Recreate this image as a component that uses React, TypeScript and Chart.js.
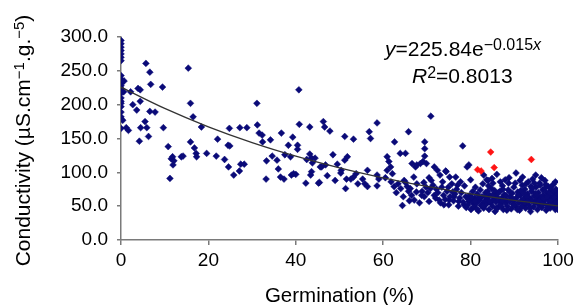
import React, { useEffect, useRef } from "react";
import { Chart, registerables } from "chart.js";

Chart.register(...registerables);

const FONT = "'Liberation Sans', Arial, Helvetica, sans-serif";

// Conductivity values of samples with 0 % germination
const ZERO_GERM_Y: number[] = [295, 290, 285, 280, 275, 270, 265, 243, 238, 231, 228, 224, 217, 210, 205, 202, 197, 189, 182, 165];

// [germination %, conductivity]
const BLUE_LOW: [number, number][] = [
  [0.7, 235], [0.6, 219], [0.4, 177], [1.2, 166], [1.7, 162], [2.2, 219], [2.7, 200], [3.6, 192], [3.9, 224],
  [4.4, 222], [4.4, 205], [4.2, 146], [4.5, 166], [5.5, 175], [5.9, 166], [5.7, 261], [6.3, 153], [6.6, 190],
  [6.6, 248], [6.8, 230], [7.8, 189], [9.5, 226], [9.7, 166], [10.8, 138], [11.2, 91], [11.5, 120], [11.8, 123],
  [12.1, 117], [11.9, 111], [13.8, 123], [14.2, 124], [15.4, 254], [15.9, 202], [16.5, 182], [15.9, 145],
  [16.8, 136], [17.2, 128], [17.3, 123], [18.4, 167], [19.6, 128], [22.1, 149], [21.8, 124], [23.7, 119],
  [24.5, 140], [24.9, 139], [24.6, 108], [24.8, 165], [25.8, 96], [27.1, 102], [27.4, 112], [28.2, 112],
  [27.2, 166], [28.8, 166], [31.1, 202], [31.2, 170], [31.6, 158], [32.3, 155], [32.4, 145], [33.3, 117],
  [33.2, 90], [34.2, 148], [34.6, 124], [35.7, 118], [36.7, 158], [36.5, 93], [37.3, 90], [38.3, 140],
  [39.0, 96], [37.5, 126], [36.0, 105],
];

const BLUE_MID: [number, number][] = [
  [39.3, 152], [38.8, 123], [40.4, 140], [40.4, 134], [40.7, 222], [40.8, 171], [40.0, 97], [42.5, 119],
  [43.2, 127], [43.8, 114], [44.4, 121], [43.2, 167], [42.3, 84], [43.6, 101], [43.4, 96], [45.4, 85],
  [45.6, 108], [46.3, 175], [46.6, 167], [47.8, 161], [46.8, 111], [50.4, 103], [50.3, 99], [51.2, 153],
  [51.2, 118], [51.4, 76], [53.2, 149], [51.8, 123], [51.6, 90], [52.6, 90], [53.2, 93], [53.8, 98],
  [54.2, 83], [55.3, 90], [55.8, 83], [56.4, 79], [56.4, 103], [56.8, 160], [57.1, 150], [58.6, 173],
  [58.6, 96], [59.0, 90], [58.6, 80], [60.9, 123], [61.3, 116], [61.7, 108], [60.9, 103], [62.6, 145],
  [62.5, 79], [63.4, 83], [64.0, 76], [64.6, 64], [64.4, 51], [63.9, 128], [65.1, 128], [64.8, 88],
  [65.1, 85], [65.5, 79], [66.2, 76], [65.8, 72], [65.8, 160], [66.6, 113], [67.4, 108], [67.7, 111],
  [68.5, 113], [69.1, 116], [67.0, 93], [67.7, 83], [67.6, 71], [45.9, 108], [45.2, 84], [43.6, 121],
  [39.5, 98], [48.5, 126], [49.5, 112], [47.2, 95], [49.0, 88], [63.0, 70], [61.8, 86], [60.5, 92],
  [62.1, 98], [66.5, 66], [66.0, 58], [68.9, 72],
];

const BLUE_HIGH: [number, number][] = [
  [70.9, 183], [69.5, 145], [69.5, 135], [69.5, 124], [69.9, 113], [71.4, 81], [74.4, 101], [75.2, 93],
  [78.2, 139], [70.5, 92], [71.0, 88], [69.8, 78], [70.2, 70], [68.8, 66], [69.3, 85], [71.7, 108],
  [72.4, 103], [73.0, 96], [67.1, 59], [68.3, 55], [69.4, 64], [70.5, 57], [71.7, 66], [72.8, 59],
  [73.9, 52], [75.1, 59], [76.2, 64], [77.3, 57], [78.5, 52], [79.6, 57], [80.7, 54], [81.9, 59], [83.0, 55],
  [72.0, 62], [72.5, 70], [73.1, 55], [73.4, 78], [73.8, 66], [74.2, 60], [74.6, 72], [75.0, 52], [75.3, 64],
  [75.7, 83], [76.1, 58], [76.4, 68], [76.8, 75], [77.2, 50], [77.5, 62], [77.9, 70], [78.3, 56], [78.6, 80],
  [78.9, 64], [74.3, 102], [76.6, 93], [77.7, 86], [80.0, 89], [79.6, 111], [83.0, 96], [83.7, 89],
  [84.9, 91], [86.0, 97], [87.9, 89], [88.7, 84], [90.4, 99], [91.9, 93], [94.9, 96],
  [79.2, 108], [79.4, 52], [79.6, 60], [79.8, 66], [80.1, 45], [80.3, 57], [80.5, 72], [80.7, 49], [80.9, 62],
  [81.1, 78], [81.3, 54], [81.5, 68], [81.8, 43], [82.0, 59], [82.2, 74], [82.4, 51], [82.6, 64], [82.8, 83],
  [83.0, 47], [83.2, 57], [83.4, 70], [83.6, 53], [83.8, 62], [84.0, 88], [84.2, 45], [84.4, 66], [84.6, 55],
  [84.8, 76], [85.0, 50], [85.2, 60], [85.4, 69], [85.6, 42], [85.8, 56], [86.0, 64],
  [86.3, 48], [86.5, 58], [86.7, 72], [86.9, 53], [87.1, 62], [87.3, 80], [87.5, 45], [87.7, 67], [88.0, 55],
  [88.2, 60], [88.4, 50], [88.6, 74], [88.9, 57], [89.1, 64], [89.3, 46], [89.5, 69], [89.7, 53], [89.9, 78],
  [90.1, 59], [90.4, 49], [90.6, 63], [90.8, 71], [91.0, 55], [91.2, 44], [91.4, 66], [91.6, 58], [91.8, 81],
  [92.0, 51], [92.2, 61], [92.4, 75], [92.6, 47], [92.8, 56], [93.0, 68], [93.2, 86], [93.3, 52], [93.5, 62],
  [93.7, 42], [93.9, 72], [94.0, 58], [94.2, 90], [94.4, 49], [94.5, 65], [94.7, 55], [95.0, 78], [95.1, 60],
  [95.3, 45], [95.5, 70], [95.6, 52], [95.8, 84], [96.0, 63], [96.1, 57], [96.3, 48], [96.5, 74], [96.6, 66],
  [96.8, 54], [97.0, 88], [97.1, 60], [97.3, 44], [97.4, 70], [97.6, 51], [97.8, 79], [97.9, 58], [98.1, 65],
  [98.2, 47], [98.4, 73], [98.6, 55], [98.7, 62], [98.9, 82], [99.0, 50], [99.1, 68], [99.3, 57], [99.4, 45],
  [99.5, 75], [99.6, 61], [99.7, 53], [99.8, 66], [99.9, 48], [100, 58], [100, 63], [100, 52], [99.2, 71],
  [98.0, 69], [96.9, 76], [95.9, 81], [94.8, 69], [93.8, 79], [92.9, 64], [92.1, 54], [91.5, 73], [90.9, 67],
  [90.0, 52], [89.0, 71], [88.1, 66], [87.2, 58], [86.4, 70], [85.5, 73], [84.3, 57], [83.3, 65], [82.1, 63],
  [81.0, 58], [84.1, 80], [85.1, 84], [85.9, 47], [86.8, 86], [87.4, 75], [88.3, 44], [88.8, 92], [89.6, 61],
  [90.2, 84], [90.7, 45], [91.3, 88], [91.7, 49], [92.3, 69], [92.7, 83], [93.1, 57], [93.6, 47], [94.1, 76],
  [94.6, 84], [95.2, 66], [95.7, 58], [96.2, 92], [96.4, 53], [96.7, 61], [97.2, 82], [97.5, 64], [97.7, 48],
  [98.3, 77], [98.5, 59], [98.8, 52], [99.2, 63], [99.4, 86], [99.6, 56], [99.8, 72], [100, 45], [100, 68],
  [87.0, 50], [85.3, 64], [83.9, 72], [82.9, 50], [81.4, 46], [80.2, 63], [79.0, 48], [77.0, 81], [75.9, 71],
  [74.9, 78], [73.6, 86], [72.2, 75], [70.8, 76],
];

const RED_POINTS: [number, number][] = [[81.6, 104], [82.4, 102], [84.6, 130], [85.4, 107], [93.9, 119]];

// Exponential trend line (y = 225.84 e^(-0.015x)) read at every 10 %
const TREND_X: number[] = [0, 10, 20, 30, 40, 50, 60, 70, 80, 90, 100];
const TREND_Y: number[] = [225.8, 194.4, 167.3, 144.0, 124.0, 106.7, 91.9, 79.1, 68.1, 58.6, 50.4];

const EQ_COEF = "225.84";
const EQ_EXP = "\u22120.015";
const EQ_R2 = "0.8013";

const X_TITLE = "Germination (%)";
const Y_TITLE_PARTS: [string, boolean][] = [
  ["Conductivity (\u00b5S.cm", false],
  ["\u22121", true],
  [".g.", false],
  ["\u22125", true],
  [")", false],
];

const textPlugin = {
  id: "richText",
  afterDraw(chart: any) {
    const { ctx, chartArea } = chart;
    ctx.save();
    ctx.fillStyle = "#000";
    ctx.textBaseline = "alphabetic";
    ctx.textAlign = "left";

    // y axis title (rotated, with superscripts)
    const mainF = `21px ${FONT}`;
    const supF = `15px ${FONT}`;
    let total = 0;
    for (const [t, s] of Y_TITLE_PARTS) {
      ctx.font = s ? supF : mainF;
      total += ctx.measureText(t).width;
    }
    const cy = (chartArea.top + chartArea.bottom) / 2 + 2;
    ctx.save();
    ctx.translate(30, cy + total / 2);
    ctx.rotate(-Math.PI / 2);
    let px = 0;
    for (const [t, s] of Y_TITLE_PARTS) {
      ctx.font = s ? supF : mainF;
      ctx.fillText(t, px, s ? -6.5 : 0);
      px += ctx.measureText(t).width;
    }
    ctx.restore();

    // equation annotation
    const m = `21px ${FONT}`;
    const mi = `italic 21px ${FONT}`;
    const sp = `16px ${FONT}`;
    const spi = `italic 16px ${FONT}`;
    const line1: [string, string, number][] = [
      [mi, "y", 0], [m, "=" + EQ_COEF + "e", 0], [sp, EQ_EXP, -6.5], [spi, "x", -6.5],
    ];
    const line2: [string, string, number][] = [
      [mi, "R", 0], [sp, "2", -5], [m, "=" + EQ_R2, 0],
    ];
    const drawLine = (runs: [string, string, number][], x0: number, y0: number) => {
      let x = x0;
      for (const [f, t, dy] of runs) {
        ctx.font = f;
        ctx.fillText(t, x, y0 + dy);
        x += ctx.measureText(t).width;
      }
    };
    drawLine(line1, chartArea.left + 264, chartArea.top + 19);
    drawLine(line2, chartArea.left + 291, chartArea.top + 45.5);
    ctx.restore();
  },
};

const toPts = (arr: [number, number][]) => arr.map(([x, y]) => ({ x, y }));

export default function App() {
  const ref = useRef<HTMLCanvasElement | null>(null);

  useEffect(() => {
    if (!ref.current) return;
    const blue = [
      ...ZERO_GERM_Y.map((y) => ({ x: 0, y })),
      ...toPts(BLUE_LOW),
      ...toPts(BLUE_MID),
      ...toPts(BLUE_HIGH),
    ];
    const axisColor = "#7a7a7a";
    const chart = new Chart(ref.current, {
      type: "scatter",
      data: {
        datasets: [
          {
            label: "Trend",
            data: TREND_X.map((x, i) => ({ x, y: TREND_Y[i] })),
            showLine: true,
            borderColor: "#333333",
            borderWidth: 1.3,
            pointRadius: 0,
            cubicInterpolationMode: "monotone",
            order: 0,
          } as any,
          {
            label: "Outliers",
            data: toPts(RED_POINTS),
            pointStyle: "rectRot",
            pointRadius: 3.4,
            backgroundColor: "#ff1414",
            borderColor: "#ff1414",
            borderWidth: 0.5,
            order: 1,
          },
          {
            label: "Samples",
            data: blue,
            pointStyle: "rectRot",
            pointRadius: 3.4,
            backgroundColor: "#0a0a78",
            borderColor: "#0a0a78",
            borderWidth: 0.5,
            order: 2,
          },
        ],
      },
      options: {
        animation: false,
        responsive: true,
        maintainAspectRatio: false,
        layout: { padding: { left: 0, right: 18, top: 37, bottom: 0 } },
        plugins: { legend: { display: false }, tooltip: { enabled: false } },
        scales: {
          x: {
            type: "linear",
            min: 0,
            max: 100,
            ticks: {
              stepSize: 20,
              color: "#000",
              font: { family: FONT, size: 19 },
              padding: 4,
              maxRotation: 0,
            },
            grid: { display: true, drawOnChartArea: false, drawTicks: true, tickLength: 5, color: axisColor, lineWidth: 1.5 },
            border: { display: true, color: axisColor, width: 1.5 },
            title: {
              display: true,
              text: X_TITLE,
              color: "#000",
              font: { family: FONT, size: 20.5, lineHeight: 1 },
              padding: { top: 0, bottom: -2 },
            },
            afterFit(s: any) {
              s.height = 65;
              s.paddingLeft = 0;
              s.paddingRight = 0;
            },
          },
          y: {
            type: "linear",
            min: 0,
            max: 300,
            ticks: {
              stepSize: 50,
              color: "#000",
              font: { family: FONT, size: 19 },
              padding: 9,
              callback: (v: any) => Number(v).toFixed(1),
            },
            grid: { display: true, drawOnChartArea: false, drawTicks: true, tickLength: 4, color: axisColor, lineWidth: 1.5 },
            border: { display: true, color: axisColor, width: 1.5 },
            afterFit(s: any) {
              s.width = 121;
              s.paddingTop = 0;
              s.paddingBottom = 0;
            },
          },
        },
      },
      plugins: [textPlugin],
    });
    return () => chart.destroy();
  }, []);

  return (
    <div style={{ position: "absolute", left: 0, top: 0, width: 576, height: 305, background: "#fff" }}>
      <canvas ref={ref} />
    </div>
  );
}
